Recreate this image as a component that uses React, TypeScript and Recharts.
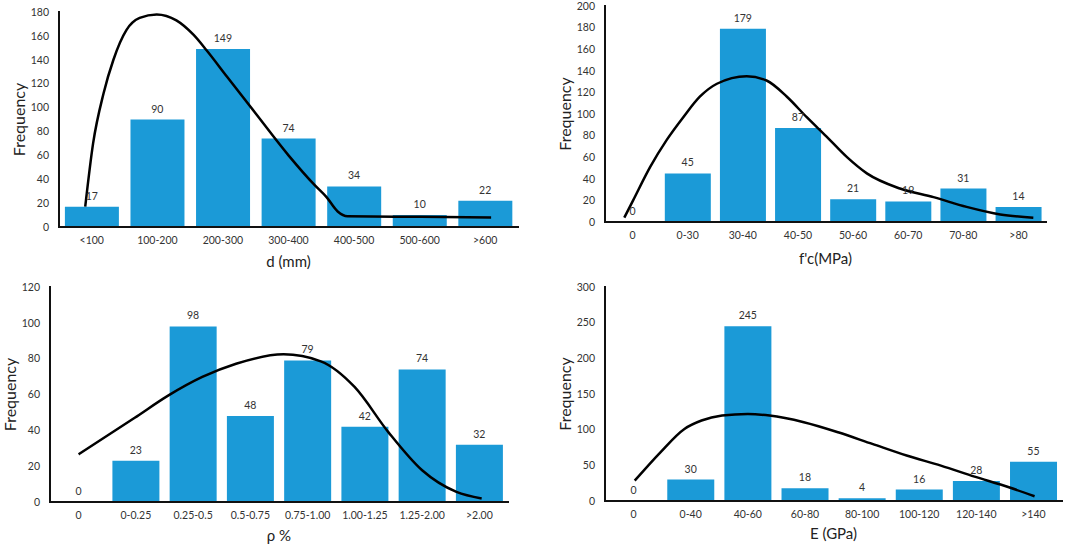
import React from 'react';
import { ComposedChart, Bar, Line, XAxis, YAxis, LabelList, Label } from 'recharts';

const FONT = 'Lato, "Liberation Sans", Arial, sans-serif';
const BAR = '#1b9ad7';
const TEXT = '#333';

// d (mm)
const dCats = ['<100', '100-200', '200-300', '300-400', '400-500', '500-600', '>600'];
const dCounts = [17, 90, 149, 74, 34, 10, 22];
const dTicks = [0, 20, 40, 60, 80, 100, 120, 140, 160, 180];
// fitted curve: [position in category units, frequency]
const dFit = [
  [0.4, 17], [0.52, 70], [0.68, 112], [0.83, 140], [1.03, 165], [1.23, 175], [1.49, 178],
  [1.79, 173], [2.05, 161], [2.25, 148], [2.56, 126], [3.0, 95], [3.5, 60], [3.9, 35],
  [4.08, 25], [4.25, 13], [4.4, 9], [5.5, 8.5], [6.59, 8],
];

// f'c (MPa)
const fcCats = ['0', '0-30', '30-40', '40-50', '50-60', '60-70', '70-80', '>80'];
const fcCounts = [0, 45, 179, 87, 21, 19, 31, 14];
const fcTicks = [0, 20, 40, 60, 80, 100, 120, 140, 160, 180, 200];
const fcFit = [
  [0.35, 4], [0.51, 20], [0.82, 51], [1.12, 76], [1.42, 97], [1.72, 116], [2.03, 128],
  [2.57, 135], [2.93, 131], [3.3, 116], [3.66, 97], [4.02, 79], [4.39, 60], [4.75, 45],
  [5.35, 31], [5.96, 23], [6.56, 14], [7.17, 7], [7.77, 4],
];

// rho %
const rhoCats = ['0', '0-0.25', '0.25-0.5', '0.5-0.75', '0.75-1.00', '1.00-1.25', '1.25-2.00', '>2.00'];
const rhoCounts = [0, 23, 98, 48, 79, 42, 74, 32];
const rhoTicks = [0, 20, 40, 60, 80, 100, 120];
const rhoFit = [
  [0.5, 26.6], [1.48, 47], [2.07, 59.5], [2.66, 69.8], [3.25, 77.2], [4.08, 82.4],
  [4.73, 78.5], [5.32, 64.2], [5.91, 39], [6.5, 17.7], [7.1, 5.6], [7.54, 1.9],
];

// E (GPa)
const eCats = ['0', '0-40', '40-60', '60-80', '80-100', '100-120', '120-140', '>140'];
const eCounts = [0, 30, 245, 18, 4, 16, 28, 55];
const eTicks = [0, 50, 100, 150, 200, 250, 300];
const eFit = [
  [0.52, 28.5], [0.97, 68.3], [1.39, 101], [1.69, 112.8], [2.05, 119.8], [2.5, 122],
  [2.88, 119.8], [3.48, 110.5], [4.08, 96.4], [4.68, 80], [5.28, 63.7], [5.88, 49.6],
  [6.47, 34.2], [7.07, 19.2], [7.52, 6.6],
];

const frameLine = { stroke: '#111', strokeWidth: 2, strokeLinecap: 'square' as const };

type PanelProps = {
  x: number;
  y: number;
  w: number;
  h: number;
  plot: { l: number; r: number; t: number; b: number };
  cats: string[];
  counts: number[];
  fit: number[][];
  yTicks: number[];
  xTitle: string;
  xTitleDy: number;
  yTitleX: number;
  gap: string;
};

const Panel = (p: PanelProps) => {
  const data = p.cats.map((c, i) => ({ cat: c, count: p.counts[i] }));
  const fitData = p.fit.map(([u, v]) => ({ u, v }));
  const yMax = p.yTicks[p.yTicks.length - 1];
  const n = p.cats.length;
  const { l, r, t, b } = p.plot;
  const midY = (t + b) / 2;

  return (
    <div style={{ position: 'absolute', left: p.x, top: p.y }}>
      <ComposedChart
        width={p.w}
        height={p.h}
        data={data}
        margin={{ top: t, right: p.w - r, left: 0, bottom: 0 }}
        barCategoryGap={p.gap}
      >
        <XAxis
          dataKey="cat"
          height={p.h - b}
          interval={0}
          tickLine={false}
          tickMargin={4}
          axisLine={frameLine}
          tick={{ fill: TEXT, fontSize: 10.5, fontFamily: FONT }}
        >
          <Label
            content={() => (
              <text x={(l + r) / 2} y={b + p.xTitleDy} textAnchor="middle" dominantBaseline="central"
                fill="#222" fontSize={15} fontFamily={FONT}>
                {p.xTitle}
              </text>
            )}
          />
        </XAxis>
        <XAxis
          xAxisId="fit"
          orientation="top"
          type="number"
          dataKey="u"
          domain={[0, n]}
          allowDataOverflow
          height={0}
          tick={false}
          tickLine={false}
          axisLine={frameLine}
        />
        <YAxis
          width={l}
          domain={[0, yMax]}
          ticks={p.yTicks}
          interval={0}
          tickLine={false}
          tickMargin={4}
          axisLine={frameLine}
          tick={{ fill: TEXT, fontSize: 10.5, fontFamily: FONT }}
        >
          <Label
            content={() => (
              <text x={p.yTitleX} y={midY} textAnchor="middle" dominantBaseline="central"
                transform={`rotate(-90, ${p.yTitleX}, ${midY})`} fill="#222" fontSize={16} fontFamily={FONT}>
                Frequency
              </text>
            )}
          />
        </YAxis>
        <YAxis
          yAxisId="fit"
          orientation="right"
          width={0}
          domain={[0, yMax]}
          allowDataOverflow
          tick={false}
          tickLine={false}
          axisLine={frameLine}
        />
        <Bar dataKey="count" fill={BAR} isAnimationActive={false} />
        {/* invisible series so that zero-height bars still get a value label */}
        <Line dataKey="count" stroke="none" dot={false} activeDot={false} isAnimationActive={false}>
          <LabelList dataKey="count" position="top" offset={7} fill={TEXT} fontSize={10.5} fontFamily={FONT} />
        </Line>
        <Line
          data={fitData}
          xAxisId="fit"
          yAxisId="fit"
          dataKey="v"
          type="monotone"
          stroke="#000"
          strokeWidth={2.5}
          dot={false}
          activeDot={false}
          isAnimationActive={false}
        />
      </ComposedChart>
    </div>
  );
};

export default function App() {
  return (
    <div style={{ position: 'fixed', left: 0, top: 0, width: 1065, height: 544, background: '#fff', overflow: 'hidden' }}>
      <Panel x={0} y={0} w={532} h={272} plot={{ l: 59, r: 518, t: 12, b: 227 }}
        cats={dCats} counts={dCounts} fit={dFit} yTicks={dTicks}
        xTitle="d (mm)" xTitleDy={34} yTitleX={18} gap="9%" />
      <Panel x={532} y={0} w={533} h={272} plot={{ l: 73, r: 514, t: 6, b: 222 }}
        cats={fcCats} counts={fcCounts} fit={fcFit} yTicks={fcTicks}
        xTitle="f'c(MPa)" xTitleDy={36} yTitleX={32} gap="8.5%" />
      <Panel x={0} y={272} w={532} h={272} plot={{ l: 50, r: 508, t: 15, b: 230 }}
        cats={rhoCats} counts={rhoCounts} fit={rhoFit} yTicks={rhoTicks}
        xTitle="ρ %" xTitleDy={33} yTitleX={9} gap="9%" />
      <Panel x={532} y={272} w={533} h={272} plot={{ l: 73, r: 530, t: 15, b: 229 }}
        cats={eCats} counts={eCounts} fit={eFit} yTicks={eTicks}
        xTitle="E (GPa)" xTitleDy={32} yTitleX={32} gap="9%" />
    </div>
  );
}
